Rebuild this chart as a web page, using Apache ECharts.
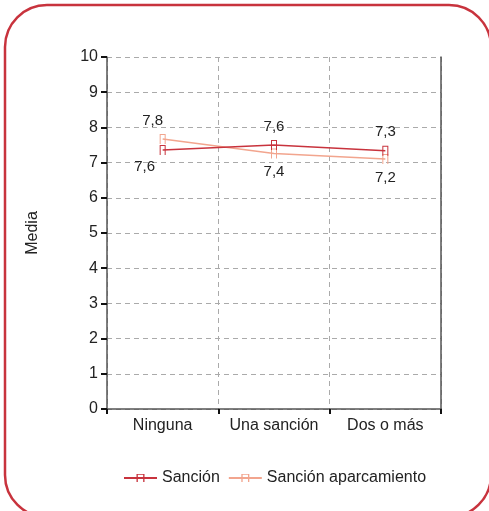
<!DOCTYPE html>
<html>
<head>
<meta charset="utf-8">
<script src="https://cdn.jsdelivr.net/npm/echarts@6/dist/echarts.min.js"></script>
<style>
  html, body { margin: 0; padding: 0; background: #fff; }
  #chart { width: 489px; height: 511px; }
</style>
</head>
<body>
<div id="chart"></div>
<script>
// categorías del eje X
const categorias = ['Ninguna', 'Una sanción', 'Dos o más'];
const sancion = [7.36, 7.5, 7.34];
const aparcamiento = [7.67, 7.26, 7.1];
// etiquetas que muestra el gráfico
const sancionEtiq = ['7,6', '7,6', '7,3'];
const aparcamientoEtiq = ['7,8', '7,4', '7,2'];
const yTicks = [0, 1, 2, 3, 4, 5, 6, 7, 8, 9, 10];

const rojo = '#c8333d';
const salmon = '#f2a58e';
const fuente = '"Liberation Sans", Arial, sans-serif';
// símbolo en forma de "n"
const simbolo = 'path://M0,10 L0,0 L6,0 L6,10 L5,10 L5,1 L1,1 L1,10 Z';

function datos(vals, etiq, arriba) {
  return vals.map((v, i) => {
    const top = arriba[i];
    return {
      value: v,
      label: {
        formatter: etiq[i],
        position: top ? 'top' : 'bottom',
        offset: i === 0 && !top ? [-18, -2] : (i === 0 ? [-10, 0] : [0, 0])
      }
    };
  });
}

const chart = echarts.init(document.getElementById('chart'));
chart.setOption({
  animation: false,
  textStyle: { fontFamily: fuente },
  graphic: [{
    type: 'rect',
    shape: { x: 5, y: 5, width: 486, height: 512, r: 42 },
    style: { fill: 'none', stroke: rojo, lineWidth: 2.5 },
    silent: true,
    z: -1
  }],
  grid: { left: 107, right: 48, top: 57, bottom: 102 },
  legend: {
    bottom: 20,
    left: 118,
    itemWidth: 33,
    itemHeight: 10,
    itemGap: 8,
    textStyle: { fontSize: 16, color: '#222', fontFamily: fuente },
    data: ['Sanción', 'Sanción aparcamiento']
  },
  xAxis: {
    type: 'category',
    data: categorias,
    boundaryGap: true,
    axisLine: { lineStyle: { color: '#555', width: 1.5 } },
    axisTick: { show: true, interval: 0, length: 5, lineStyle: { color: '#111', width: 2 } },
    axisLabel: { interval: 0, fontSize: 16, color: '#222', margin: 9 },
    splitLine: { show: true, interval: 0, lineStyle: { color: '#aaa', type: [5, 4] } }
  },
  yAxis: [{
    type: 'value',
    min: 0,
    max: 10,
    interval: 1,
    name: 'Media',
    nameLocation: 'middle',
    nameGap: 66,
    nameTextStyle: { fontSize: 16, color: '#222' },
    axisLine: { show: true, lineStyle: { color: '#555', width: 1.5 } },
    axisTick: { show: true, length: 6, lineStyle: { color: '#111', width: 2 } },
    axisLabel: { fontSize: 16, color: '#222', margin: 9, formatter: v => yTicks.includes(v) ? String(v) : '' },
    splitLine: { show: true, lineStyle: { color: '#aaa', type: [5, 4] } }
  }, {
    type: 'value',
    min: 0,
    max: 10,
    interval: 1,
    position: 'right',
    axisLine: { show: true, lineStyle: { color: '#555', width: 1.5 } },
    axisTick: { show: false },
    axisLabel: { show: false },
    splitLine: { show: false }
  }],
  series: [{
    name: 'Sanción',
    type: 'line',
    data: datos(sancion, sancionEtiq, [false, true, true]),
    symbol: simbolo,
    symbolSize: [6, 10],
    lineStyle: { color: rojo, width: 1.5 },
    itemStyle: { color: rojo },
    label: { show: true, fontSize: 15, color: '#222', distance: 6 },
    z: 3
  }, {
    name: 'Sanción aparcamiento',
    type: 'line',
    data: datos(aparcamiento, aparcamientoEtiq, [true, false, false]),
    symbol: simbolo,
    symbolSize: [6, 10],
    lineStyle: { color: salmon, width: 1.5 },
    itemStyle: { color: salmon },
    label: { show: true, fontSize: 15, color: '#222', distance: 6 },
    z: 2
  }]
});
</script>
</body>
</html>
